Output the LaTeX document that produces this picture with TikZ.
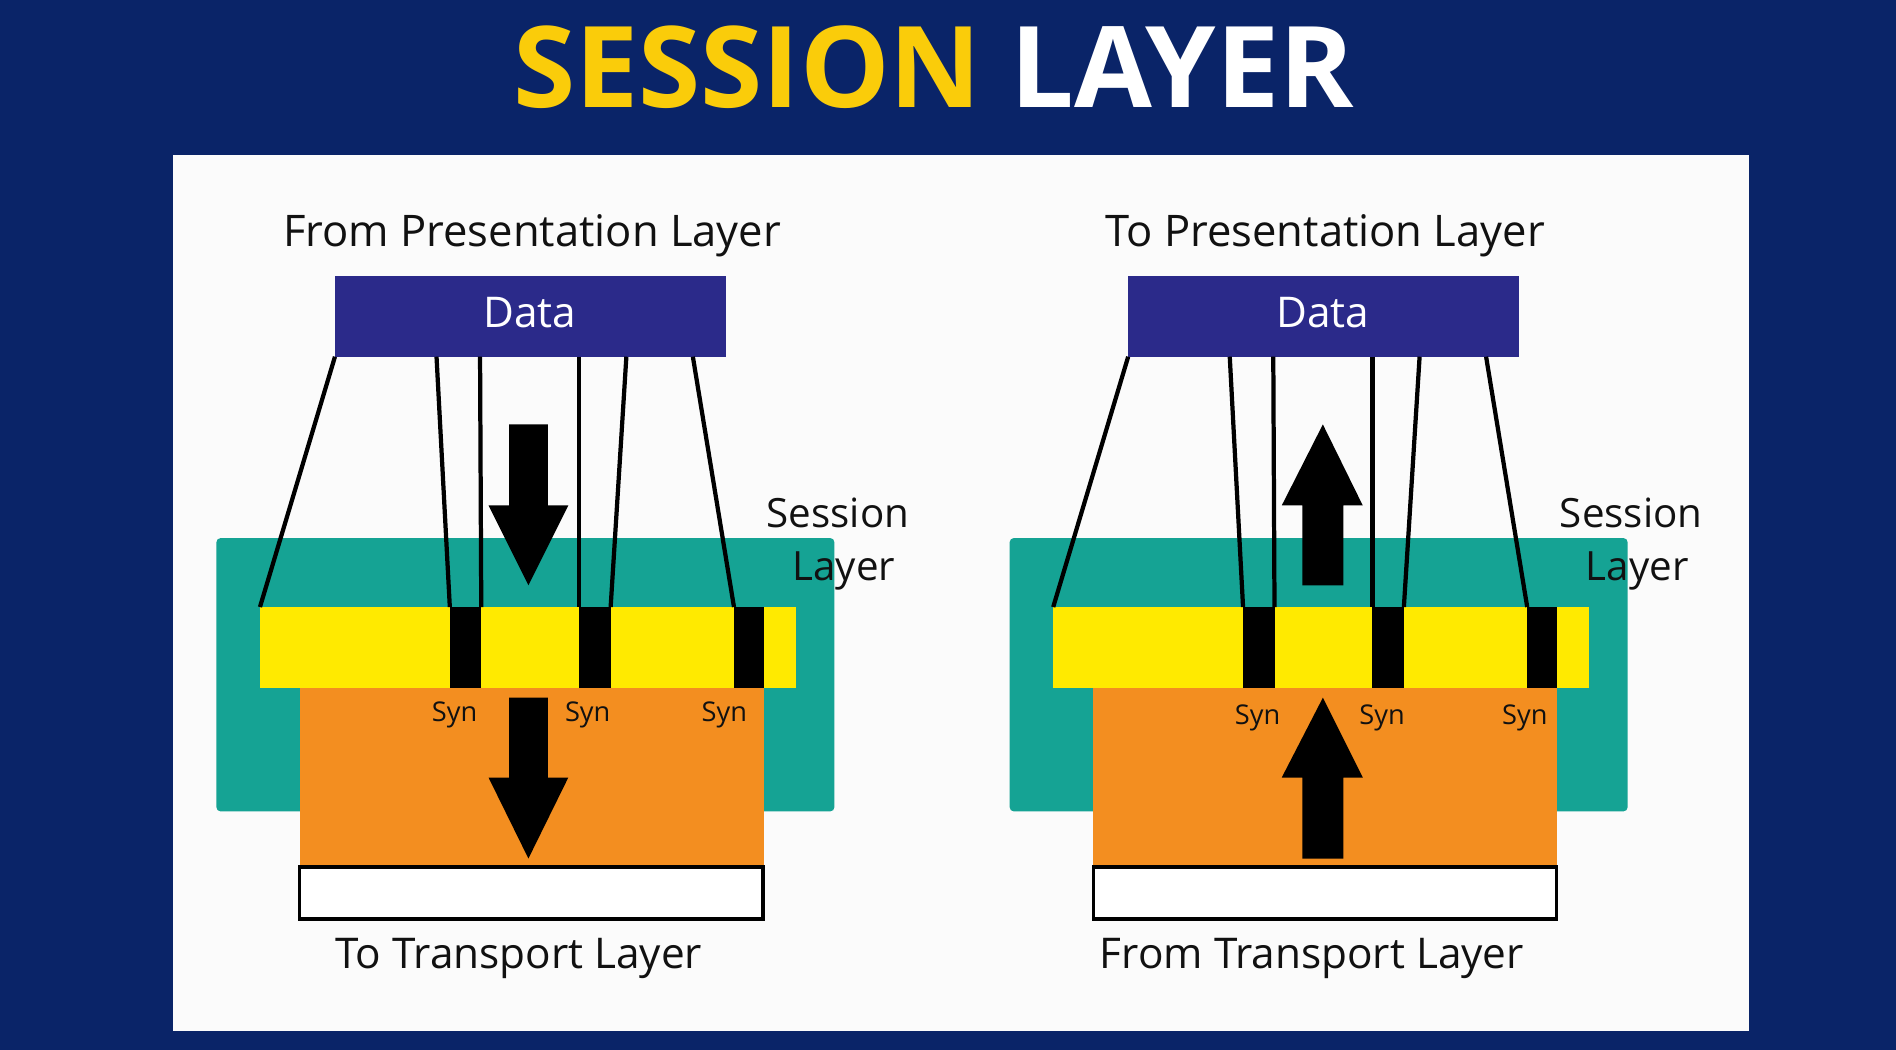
\documentclass[tikz,border=0pt]{standalone}
\usepackage{fontspec}
\setmainfont{Open Sans}
\usetikzlibrary{fit,calc}
\definecolor{navybg}{RGB}{10,36,104}
\definecolor{titleyellow}{RGB}{250,204,10}
\definecolor{panelwhite}{RGB}{251,251,251}
\definecolor{tealc}{RGB}{21,163,148}
\definecolor{orangec}{RGB}{243,142,32}
\definecolor{yellowc}{RGB}{255,234,0}
\definecolor{datablue}{RGB}{43,42,138}
\definecolor{inkc}{RGB}{17,17,17}
\begin{document}
\begin{tikzpicture}[x=0.6pt,y=-0.6pt,
  box/.style={inner sep=0pt, outer sep=0pt, draw=none},
  lbl/.style={font=\fontsize{21}{25}\selectfont, text=inkc, inner sep=0pt, anchor=base},
  toplbl/.style={font=\fontsize{21.6}{25}\selectfont, text=inkc, inner sep=0pt, anchor=base},
  sesslbl/.style={font=\fontsize{20}{24}\selectfont, text=inkc, inner sep=0pt, anchor=base},
  synlbl/.style={font=\fontsize{13.5}{16}\selectfont, text=inkc, inner sep=0pt, anchor=base},
  link/.style={line width=2.1pt, draw=black},
  blockarrow/.style={fill=black}]
\useasboundingbox (0,0) rectangle (1568,868);
\fill[navybg] (0,0) rectangle (1568,868);
\node[box, fill=panelwhite, fit={(143,128) (1446,853)}] (panel) {};
\node[anchor=base, inner sep=0pt, font=\fontsize{56}{60}\selectfont\bfseries] (title) at (772,89)
  {\textcolor{titleyellow}{SESSION} \textcolor{white}{LAYER}};
\foreach \s/\dx/\toptext/\bottext in {L/0/From Presentation Layer/To Transport Layer, R/656/To Presentation Layer/From Transport Layer}{
  \begin{scope}[xshift=\dx*0.6pt]
    \node[box, fill=tealc, rounded corners=2pt, fit={(179,445) (690,671)}] (teal\s) {};
    \node[box, fill=orangec, fit={(248,568) (632,716)}] (orange\s) {};
    \node[box, fill=yellowc, fit={(215,502) (658,569)}] (yellow\s) {};
    \node[box, fill=black, fit={(372,502) (398,569)}] (synA\s) {};
    \node[box, fill=black, fit={(479,502) (505,569)}] (synB\s) {};
    \node[box, fill=black, fit={(607,502) (632,569)}] (synC\s) {};
    \node[box, draw=black, line width=1.5pt, fill=white, fit={(248,717) (631,760)}] (trans\s) {};
    \node[box, fill=datablue, fit={(277,228) (600,295)}] (data\s) {};
    \node[lbl, text=white] (dtext\s) at (438,271) {Data};
    \draw[link] (data\s.south west) -- (yellow\s.north west);
    \draw[link] ($(data\s.south west)+(84,0)$) -- (synA\s.north west);
    \draw[link] ($(data\s.south west)+(120,0)$) -- (synA\s.north east);
    \draw[link] ($(data\s.south west)+(202,0)$) -- (synB\s.north west);
    \draw[link] ($(data\s.south west)+(241,0)$) -- (synB\s.north east);
    \draw[link] ($(data\s.south west)+(296,0)$) -- (synC\s.north west);
    \node[toplbl] (top\s) at (440,204) {\toptext};
    \node[lbl] (bot\s) at (429,801) {\bottext};
    \node[sesslbl] (sessA\s) at (693,436) {Session};
    \node[sesslbl] (sessB\s) at (698,480) {Layer};
  \end{scope}
}
% Syn labels
\node[synlbl] (synlabA) at (376,597) {Syn};
\node[synlbl] (synlabB) at (486,597) {Syn};
\node[synlbl] (synlabC) at (599,597) {Syn};
\node[synlbl] (synlabD) at (1040,599) {Syn};
\node[synlbl] (synlabE) at (1143,599) {Syn};
\node[synlbl] (synlabF) at (1261,599) {Syn};
% block arrows, left (down)
\fill[blockarrow] (421,351) -- (453,351) -- (453,418) -- (470,418) -- (437,484) -- (404,418) -- (421,418) -- cycle;
\fill[blockarrow] (421,577) -- (453,577) -- (453,643) -- (470,643) -- (437,710) -- (404,643) -- (421,643) -- cycle;
% block arrows, right (up)
\fill[blockarrow] (1077,484) -- (1111,484) -- (1111,418) -- (1127,418) -- (1094,351) -- (1060,418) -- (1077,418) -- cycle;
\fill[blockarrow] (1077,710) -- (1111,710) -- (1111,643) -- (1127,643) -- (1094,577) -- (1060,643) -- (1077,643) -- cycle;
\end{tikzpicture}
\end{document}
